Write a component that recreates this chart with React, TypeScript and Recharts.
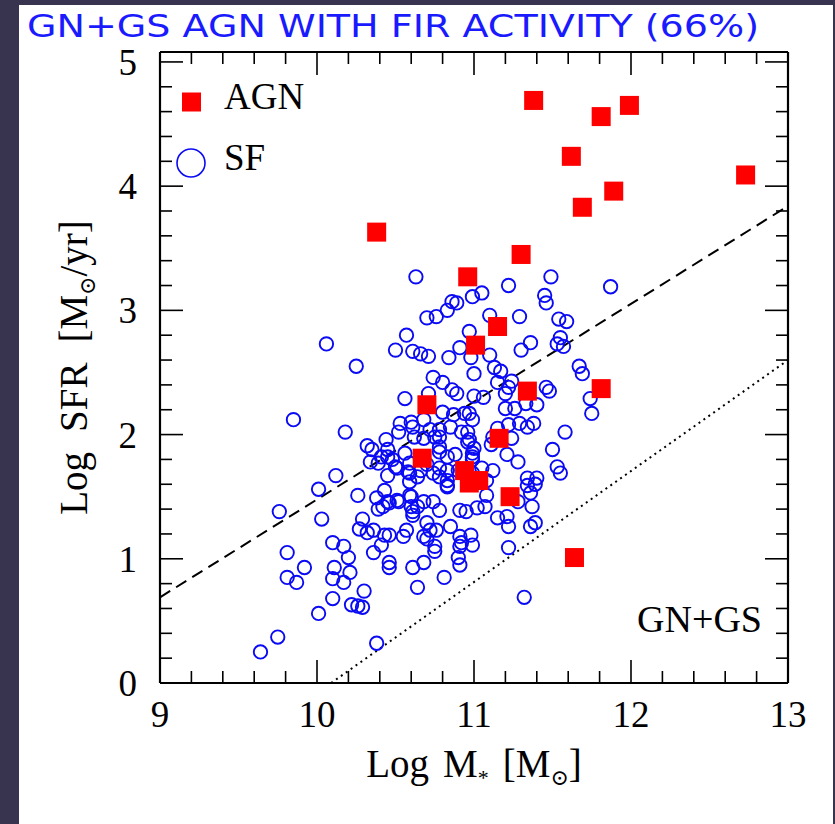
import {
  Label,
  Legend,
  ReferenceLine,
  Scatter,
  ScatterChart,
  XAxis,
  YAxis,
} from "recharts";

// SF galaxies (open circles): log stellar mass, log SFR
const sfMass = [
  10.63, 10.99, 11.05, 11.22, 11.49, 11.87, 11.45, 10.7, 10.76, 10.83, 10.86, 10.89, 11.46, 11.1, 11.29,
  11.54, 11.59, 10.57, 10.97, 11.36, 11.3, 11.55, 11.53, 11.57, 10.5, 10.61, 10.66, 10.71, 10.84, 10.91,
  10.06, 11.1, 10.98, 10.25, 11.13, 11.17, 11.0, 10.74, 10.8, 10.86, 10.89, 11.15, 11.24, 11.22, 11.2,
  11.46, 11.48, 11.67, 11.69, 11.0, 11.06, 10.56, 10.71, 11.33, 11.4, 11.74, 11.75, 11.2, 11.26, 10.94,
  10.97, 10.8, 10.87, 9.85, 10.6, 10.68, 10.53, 10.99, 10.18, 11.58, 11.29, 11.34, 11.38, 11.15, 11.22,
  11.24, 11.11, 11.5, 11.53, 11.55, 11.21, 11.28, 11.0, 10.83, 10.72, 10.61, 10.52, 10.78, 10.78, 10.96,
  10.62, 10.68, 10.78, 10.85, 10.92, 10.96, 10.44, 10.32, 10.35, 10.45, 10.41, 10.48, 10.34, 10.39, 10.5,
  10.56, 10.59, 10.78, 10.88, 10.99, 10.12, 10.7, 10.83, 11.12, 11.34, 11.4, 11.12, 10.75, 10.74, 10.78,
  10.9, 10.99, 11.05, 10.97, 10.99, 10.99, 10.45, 10.51, 10.59, 10.59, 10.66, 10.78, 10.83, 10.45, 10.01,
  9.76, 10.03, 10.26, 10.43, 10.38, 10.39, 10.45, 10.52, 10.6, 10.6, 10.61, 10.68, 10.74, 10.78, 10.91,
  10.95, 11.02, 10.29, 10.27, 10.32, 10.36, 10.46, 10.55, 10.57, 10.7, 10.72, 10.76, 10.85, 10.68, 10.7,
  10.41, 10.36, 10.46, 10.46, 10.61, 10.68, 10.75, 10.75, 10.91, 10.98, 10.91, 10.9, 10.91, 10.99, 10.1,
  10.17, 10.2, 10.11, 10.21, 10.1, 10.17, 9.81, 9.92, 9.81, 9.87, 10.3, 10.1, 10.01, 10.22, 10.26,
  10.29, 10.64, 10.81, 9.75, 9.64, 10.38, 11.08, 11.08, 11.28, 11.15, 11.21, 11.22, 11.07, 11.22, 11.32,
  11.34, 11.39, 11.36, 11.37, 11.39, 11.36, 10.92, 10.43, 10.64, 10.51, 10.46, 10.42, 10.59, 10.61, 10.58,
  10.64, 10.83, 10.83,
];
const sfSfr = [
  3.27, 3.11, 3.14, 3.2, 3.27, 3.19, 3.12, 2.94, 2.95, 3.0, 3.07, 3.06, 3.06, 2.96, 2.95,
  2.93, 2.91, 2.8, 2.83, 2.74, 2.68, 2.78, 2.73, 2.71, 2.68, 2.67, 2.65, 2.63, 2.62, 2.7,
  2.73, 2.64, 2.62, 2.55, 2.54, 2.51, 2.49, 2.46, 2.42, 2.36, 2.33, 2.42, 2.43, 2.38, 2.33,
  2.38, 2.35, 2.55, 2.49, 2.31, 2.3, 2.29, 2.33, 2.25, 2.24, 2.29, 2.17, 2.21, 2.21, 2.17,
  2.17, 2.18, 2.16, 2.12, 2.1, 2.12, 2.09, 2.12, 2.02, 2.02, 2.09, 2.06, 2.09, 2.05, 2.08,
  1.97, 1.92, 1.88, 1.74, 1.69, 1.84, 1.78, 1.89, 1.82, 2.04, 2.06, 2.02, 1.98, 1.9, 2.02,
  1.98, 1.97, 2.04, 2.06, 2.02, 1.94, 1.96, 1.91, 1.88, 1.88, 1.82, 1.8, 1.78, 1.77, 1.74,
  1.85, 1.77, 1.86, 1.84, 1.82, 1.67, 1.76, 1.71, 1.71, 1.65, 1.65, 1.98, 1.98, 1.69, 1.73,
  1.71, 1.69, 1.73, 1.96, 1.85, 1.8, 1.82, 1.73, 1.69, 1.62, 1.71, 1.66, 1.59, 1.67, 1.56,
  1.38, 1.32, 1.51, 1.55, 1.49, 1.4, 1.46, 1.46, 1.5, 1.42, 1.38, 1.46, 1.46, 1.39, 1.39,
  1.38, 1.41, 1.32, 1.24, 1.21, 1.23, 1.19, 1.18, 1.23, 1.29, 1.23, 1.23, 1.26, 1.18, 1.16,
  1.11, 1.05, 0.97, 0.93, 0.93, 0.97, 1.1, 1.06, 1.18, 1.19, 1.1, 1.01, 0.95, 1.11, 1.13,
  1.1, 1.01, 0.93, 0.89, 0.84, 0.81, 1.05, 0.93, 0.85, 0.81, 0.74, 0.68, 0.56, 0.63, 0.62,
  0.61, 0.77, 0.85, 0.37, 0.25, 0.32, 1.63, 1.51, 1.46, 1.33, 1.34, 1.26, 1.42, 1.09, 0.69,
  1.59, 1.6, 1.53, 1.42, 1.29, 1.26, 1.13, 1.19, 1.42, 1.47, 1.45, 1.42, 1.51, 1.35, 1.7,
  1.66, 1.58, 1.63,
];

// AGN hosts (filled squares)
const agnMass = [
  10.38, 11.38, 11.81, 11.99, 11.62, 11.89, 11.69, 12.73, 11.3, 10.96, 11.15,
  11.01, 11.34, 11.81, 10.7, 11.16, 10.67, 10.94, 10.97, 11.03, 11.23, 11.64,
];
const agnSfr = [
  3.63, 4.69, 4.56, 4.65, 4.24, 3.96, 3.83, 4.09, 3.45, 3.27, 2.87,
  2.72, 2.35, 2.37, 2.24, 1.97, 1.81, 1.71, 1.61, 1.63, 1.5, 1.01,
];

// reference relations
const dashedMass = [9, 13];
const dashedSfr = [0.69, 3.84];
const dottedMass = [10.09, 13];
const dottedSfr = [0, 2.6];

const xMajor = [9, 10, 11, 12, 13];
const yMajor = [0, 1, 2, 3, 4, 5];
const xTicks: number[] = [];
for (let i = 0; i <= 20; i++) xTicks.push(Math.round((9 + i * 0.2) * 10) / 10);
const yTicks: number[] = [];
for (let i = 0; i <= 25; i++) yTicks.push(Math.round(i * 2) / 10);

const legendNames = ["AGN", "SF"];

const sfData = sfMass.map((m, i) => ({ x: m, y: sfSfr[i] }));
const agnData = agnMass.map((m, i) => ({ x: m, y: agnSfr[i] }));

const SERIF = "'Liberation Serif', 'DejaVu Serif', serif";
const BLUE = "#0a0af5";
const RED = "#ff0000";

// inward ticks on every side of the frame, labels only on bottom/left
const makeTick = (side: "bottom" | "top" | "left" | "right") => (props: any) => {
  const { x, y, payload } = props;
  const v = payload.value;
  const major = side === "bottom" || side === "top" ? xMajor.includes(v) : yMajor.includes(v);
  const len = major ? 23 : 12;
  let x2 = x;
  let y2 = y;
  if (side === "bottom") y2 = y - len;
  if (side === "top") y2 = y + len;
  if (side === "left") x2 = x + len;
  if (side === "right") x2 = x - len;
  return (
    <g>
      <line x1={x} y1={y} x2={x2} y2={y2} stroke="#000" strokeWidth={1.6} />
      {major && side === "bottom" && (
        <text x={x} y={y + 44} textAnchor="middle" fontFamily={SERIF} fontSize={37} fill="#000">
          {v}
        </text>
      )}
      {major && side === "left" && (
        <text x={x - 23} y={y + 13} textAnchor="end" fontFamily={SERIF} fontSize={37} fill="#000">
          {v}
        </text>
      )}
    </g>
  );
};

const Circle = (p: any) => (
  <circle cx={p.cx} cy={p.cy} r={6.7} fill="none" stroke={BLUE} strokeWidth={1.9} />
);
const Square = (p: any) => <rect x={p.cx - 9.5} y={p.cy - 9.5} width={19} height={19} fill={RED} />;

const LegendBox = () => (
  <svg width={200} height={110} style={{ overflow: "visible" }}>
    <rect x={12} y={14.5} width={19} height={19} fill={RED} />
    <text x={54} y={30.5} fontFamily={SERIF} fontSize={37} fill="#000">
      {legendNames[0]}
    </text>
    <circle cx={21} cy={85} r={14} fill="none" stroke={BLUE} strokeWidth={1.6} />
    <text x={54} y={92} fontFamily={SERIF} fontSize={37} fill="#000">
      {legendNames[1]}
    </text>
  </svg>
);

const frame = { stroke: "#000", strokeWidth: 2.2 };

export default function App() {
  return (
    <div style={{ position: "fixed", left: 0, top: 0, width: 835, height: 824, background: "#38344f" }}>
      <div style={{ position: "absolute", left: 19, top: 5, width: 814, height: 819, background: "#fff" }} />
      <div style={{ position: "absolute", left: 0, top: 0 }}>
        <ScatterChart width={835} height={824} margin={{ top: 0, right: 0, bottom: 0, left: 0 }}>
          <XAxis
            xAxisId="b"
            dataKey="x"
            type="number"
            orientation="bottom"
            domain={[9, 13]}
            allowDataOverflow
            ticks={xTicks}
            interval={0}
            height={141}
            tickSize={0}
            tickMargin={0}
            tickLine={false}
            axisLine={frame}
            tick={makeTick("bottom")}
          >
            <Label
              content={({ viewBox }: any) => (
                <text
                  x={viewBox.x + viewBox.width / 2}
                  y={viewBox.y + 94}
                  textAnchor="middle"
                  fontFamily={SERIF}
                  fontSize={39}
                  fill="#000"
                >
                  Log<tspan dx={14}>M</tspan>
                  <tspan fontSize={22} dy={8}>*</tspan>
                  <tspan dy={-8} dx={14}>[M</tspan>
                  <tspan fontSize={22} dy={8}>⊙</tspan>
                  <tspan dy={-8}>]</tspan>
                </text>
              )}
            />
          </XAxis>
          <XAxis
            xAxisId="t"
            dataKey="x"
            type="number"
            orientation="top"
            domain={[9, 13]}
            allowDataOverflow
            ticks={xTicks}
            interval={0}
            height={52}
            tickSize={0}
            tickMargin={0}
            tickLine={false}
            axisLine={frame}
            tick={makeTick("top")}
          />
          <YAxis
            yAxisId="l"
            dataKey="y"
            type="number"
            orientation="left"
            domain={[0, 5.08]}
            allowDataOverflow
            ticks={yTicks}
            interval={0}
            width={160}
            tickSize={0}
            tickMargin={0}
            tickLine={false}
            axisLine={frame}
            tick={makeTick("left")}
          >
            <Label
              content={({ viewBox }: any) => {
                const cx = 87;
                const cy = viewBox.y + viewBox.height / 2;
                return (
                  <text
                    x={cx}
                    y={cy}
                    transform={`rotate(-90, ${cx}, ${cy})`}
                    textAnchor="middle"
                    fontFamily={SERIF}
                    fontSize={39}
                    fill="#000"
                  >
                    Log<tspan dx={20}>SFR</tspan>
                    <tspan dx={20}>[M</tspan>
                    <tspan fontSize={22} dy={8}>⊙</tspan>
                    <tspan dy={-8}>/yr]</tspan>
                  </text>
                );
              }}
            />
          </YAxis>
          <YAxis
            yAxisId="r"
            dataKey="y"
            type="number"
            orientation="right"
            domain={[0, 5.08]}
            allowDataOverflow
            ticks={yTicks}
            interval={0}
            width={47}
            tickSize={0}
            tickMargin={0}
            tickLine={false}
            axisLine={frame}
            tick={makeTick("right")}
          />
          <ReferenceLine
            xAxisId="b"
            yAxisId="l"
            segment={[
              { x: dashedMass[0], y: dashedSfr[0] },
              { x: dashedMass[1], y: dashedSfr[1] },
            ]}
            stroke="#000"
            strokeWidth={2}
            strokeDasharray="12 7"
            ifOverflow="visible"
          />
          <ReferenceLine
            xAxisId="b"
            yAxisId="l"
            segment={[
              { x: dottedMass[0], y: dottedSfr[0] },
              { x: dottedMass[1], y: dottedSfr[1] },
            ]}
            stroke="#000"
            strokeWidth={2}
            strokeDasharray="2 4"
            ifOverflow="visible"
          />
          <Scatter
            name="SF"
            xAxisId="b"
            yAxisId="l"
            data={sfData}
            shape={Circle}
            isAnimationActive={false}
          />
          <Scatter
            name="AGN"
            xAxisId="b"
            yAxisId="l"
            data={agnData}
            shape={Square}
            isAnimationActive={false}
          />
          <Legend
            layout="horizontal"
            verticalAlign="middle"
            align="center"
            wrapperStyle={{ left: 170, top: 78, width: 200, height: 110 }}
            content={() => <LegendBox />}
          />
        </ScatterChart>
      </div>
      <svg
        width={835}
        height={824}
        style={{ position: "absolute", left: 0, top: 0, pointerEvents: "none" }}
      >
        <text
          x={27}
          y={37}
          textLength={732}
          lengthAdjust="spacingAndGlyphs"
          fontFamily="'DejaVu Sans', sans-serif"
          fontSize={32}
          fill="#1a1aff"
        >
          GN+GS AGN WITH FIR ACTIVITY (66%)
        </text>
        <text x={762} y={632} textAnchor="end" fontFamily={SERIF} fontSize={38} fill="#000">
          GN+GS
        </text>
      </svg>
    </div>
  );
}
